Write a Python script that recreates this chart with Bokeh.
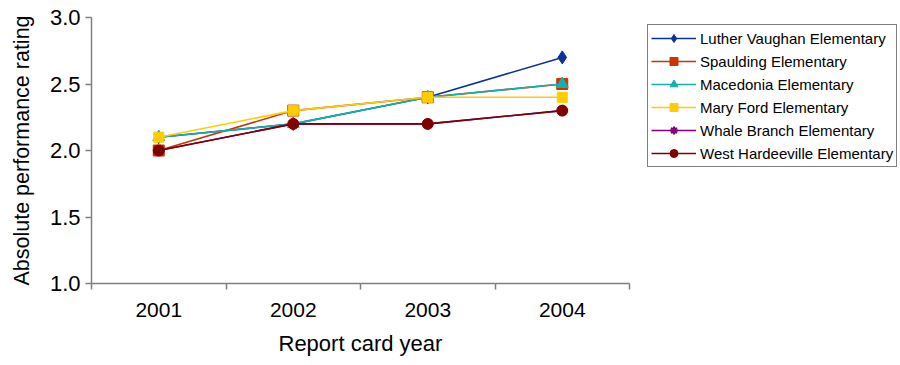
from bokeh.plotting import figure
from bokeh.models import FixedTicker, Legend, LegendItem, Range1d, Title
from bokeh.embed import file_html
from bokeh.resources import INLINE

years = ["2001", "2002", "2003", "2004"]
luther_vaughan = [2.1, 2.2, 2.4, 2.7]
spaulding = [2.0, 2.3, 2.4, 2.5]
macedonia = [2.1, 2.2, 2.4, 2.5]
mary_ford = [2.1, 2.3, 2.4, 2.4]
whale_branch = [2.0, 2.2, 2.2, 2.3]
west_hardeeville = [2.0, 2.2, 2.2, 2.3]
series_names = ["Luther Vaughan Elementary", "Spaulding Elementary", "Macedonia Elementary",
                "Mary Ford Elementary", "Whale Branch Elementary", "West Hardeeville Elementary"]
y_ticks = [1.0, 1.5, 2.0, 2.5, 3.0]
x_title = "Report card year"
y_title = "Absolute performance rating"

series = [luther_vaughan, spaulding, macedonia, mary_ford, whale_branch, west_hardeeville]
colors = ["#0A3296", "#CC3300", "#13B0AE", "#FFCC00", "#800080", "#800000"]
markers = ["diamond", "square", "triangle", "square", "asterisk", "circle"]
sizes = [13, 11, 12, 10, 11, 11]

xs = list(range(1, len(years) + 1))
n = len(years)
# frame spans to the right edge so the legend (inside the frame) is not clipped;
# axis bounds keep the axis line to the category area
px_per_cat = 134.5
frame_w = 900 - 91
x_end = 0.5 + frame_w / px_per_cat

p = figure(width=900, height=365, output_backend="svg", toolbar_location=None,
           x_range=Range1d(0.5, x_end), y_range=Range1d(1.0, 3.0),
           min_border_left=91, min_border_right=0, min_border_top=17, min_border_bottom=82)
p.outline_line_color = None
p.xgrid.visible = False
p.ygrid.visible = False
p.background_fill_color = "white"
p.border_fill_color = "white"

items = []
for name, vals, c, m, s in zip(series_names, series, colors, markers, sizes):
    ln = p.line(xs, vals, line_color=c, line_width=1.6)
    sc = p.scatter(xs, vals, marker=m, size=s, fill_color=c, line_color=c, line_width=2 if m == "asterisk" else 1)
    items.append(LegendItem(label=name, renderers=[ln, sc]))

# x axis
xa = p.xaxis[0]
xa.bounds = (0.5, n + 0.5)
xa.ticker = FixedTicker(ticks=xs, minor_ticks=[x - 0.5 for x in xs] + [n + 0.5])
xa.major_label_overrides = {x: y for x, y in zip(xs, years)}
xa.major_tick_out = 0
xa.major_tick_in = 0
xa.minor_tick_out = 6
xa.minor_tick_in = 0
xa.major_label_standoff = 13
xa.major_label_text_font_size = "21px"

ya = p.yaxis[0]
ya.ticker = FixedTicker(ticks=y_ticks, minor_ticks=[])
ya.major_label_overrides = {t: f"{t:.1f}" for t in y_ticks}
ya.major_tick_out = 6
ya.major_tick_in = 0
ya.major_label_standoff = 5
ya.major_label_text_font_size = "22px"
ya.axis_label = y_title
ya.axis_label_standoff = 13
ya.axis_label_text_font = "Liberation Sans"
ya.axis_label_text_font_size = "21.5px"
ya.axis_label_text_font_style = "normal"
ya.axis_label_text_color = "black"

for ax in (xa, ya):
    ax.axis_line_color = "#808080"
    ax.axis_line_width = 1.5
    ax.major_tick_line_color = "#808080"
    ax.minor_tick_line_color = "#808080"
    ax.minor_tick_line_width = 1.5
    ax.major_tick_line_width = 1.5
    ax.major_label_text_font = "Liberation Sans"
    ax.major_label_text_color = "black"

# x axis title centred under the category area
xt = Title(text=x_title, align="left", offset=187, standoff=18,
           text_font="Liberation Sans", text_font_size="22px",
           text_font_style="normal", text_color="black")
p.add_layout(xt, "below")

legend = Legend(items=items, location=(556, 116), orientation="vertical")
legend.glyph_width = 45
legend.glyph_height = 20
legend.label_height = 20
legend.label_standoff = 4
legend.spacing = 3
legend.padding = 3
legend.margin = 0
legend.label_text_font = "Liberation Sans"
legend.label_text_font_size = "15px"
legend.label_text_color = "black"
legend.border_line_color = "black"
legend.border_line_width = 1
legend.background_fill_color = "white"
legend.background_fill_alpha = 1
p.add_layout(legend, "center")

open("out.html", "w").write(file_html(p, INLINE))
